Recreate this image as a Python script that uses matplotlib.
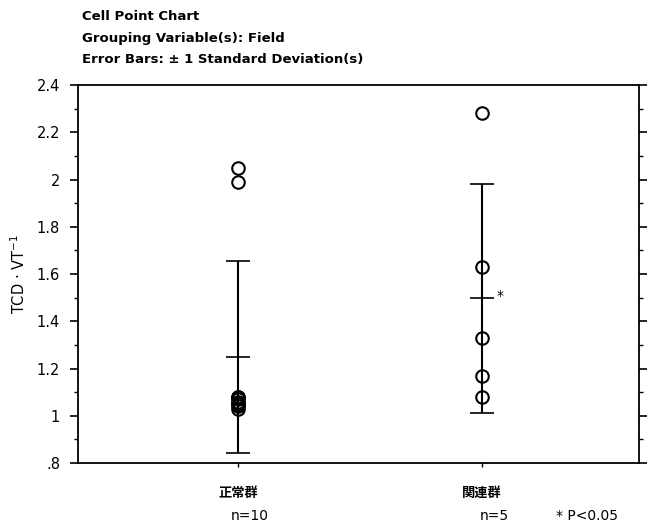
import numpy as np
import matplotlib
matplotlib.use("Agg")
import matplotlib.pyplot as plt
from matplotlib.ticker import MultipleLocator, FixedFormatter, FixedLocator

plt.rcParams['font.family'] = ['DejaVu Sans', 'Noto Sans CJK JP']

groups = ["正常群", "関連群"]
counts = ["n=10", "n=5"]
normal_vals = [2.05, 1.99, 1.03, 1.04, 1.05, 1.05, 1.06, 1.07, 1.08, 1.08]
related_vals = [2.28, 1.63, 1.33, 1.17, 1.08]
ytick_vals = [0.8, 1.0, 1.2, 1.4, 1.6, 1.8, 2.0, 2.2, 2.4]
ytick_labels = [".8", "1", "1.2", "1.4", "1.6", "1.8", "2", "2.2", "2.4"]

fig = plt.figure(figsize=(6.51, 5.25), dpi=100)
ax = fig.add_axes([0.12, 0.118, 0.862, 0.72])

for i, vals in enumerate([normal_vals, related_vals]):
    x = i + 1
    m = np.mean(vals)
    sd = np.std(vals, ddof=1)
    ax.errorbar([x], [m], yerr=[sd], fmt='none', ecolor='black',
                elinewidth=1.5, capsize=8.3, capthick=1.2)
    ax.plot([x], [m], marker='_', markersize=17, mew=1.2, color='black')
    ax.plot([x] * len(vals), vals, 'o', mfc='none', mec='black',
            markersize=9, mew=1.5)
    if i == 1:
        ax.text(x + 0.06, m + 0.01, "*", fontsize=10, ha='left', va='center')

ax.set_xlim(0.345, 2.645)
ax.set_ylim(0.8, 2.4)
ax.yaxis.set_major_locator(FixedLocator(ytick_vals))
ax.yaxis.set_major_formatter(FixedFormatter(ytick_labels))
ax.yaxis.set_minor_locator(MultipleLocator(0.1))
ax.set_xticks([1, 2])
ax.set_xticklabels([])
ax.tick_params(axis='y', which='both', direction='out', left=True, right=True,
               labelsize=10.5)
ax.tick_params(axis='y', which='major', length=6, width=1.2, pad=7)
ax.tick_params(axis='y', which='minor', length=3, width=1)
ax.tick_params(axis='x', direction='out', length=3, width=1)
for s in ax.spines.values():
    s.set_linewidth(1.3)

ax.set_ylabel("TCD · VT$^{-1}$", fontsize=10.5, labelpad=6)

for i, (g, n) in enumerate(zip(groups, counts)):
    ax.text(i + 1, -0.08, g, transform=ax.get_xaxis_transform(),
            ha='center', va='center', fontsize=9.5, fontweight='bold')
    ax.text(i + 1.05, -0.14, n, transform=ax.get_xaxis_transform(),
            ha='center', va='center', fontsize=10)
ax.text(2.43, -0.14, "* P<0.05", transform=ax.get_xaxis_transform(),
        ha='center', va='center', fontsize=10)

title_lines = ["Cell Point Chart", "Grouping Variable(s): Field",
               "Error Bars: ± 1 Standard Deviation(s)"]
for k, line in enumerate(title_lines):
    fig.text(0.126, 1 - (17 + 21.5 * k) / 525, line, fontsize=9.5,
             fontweight='bold', ha='left', va='center')

fig.savefig("out.png", dpi=100)
